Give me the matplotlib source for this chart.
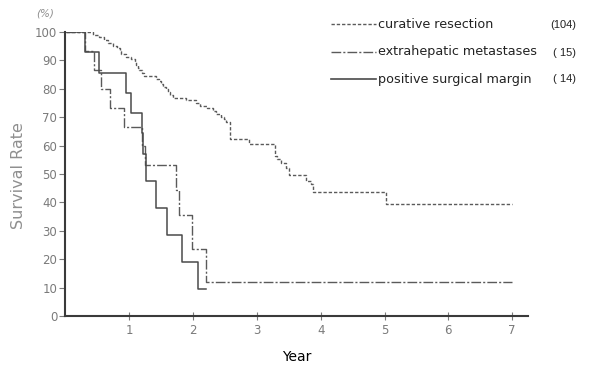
import matplotlib
matplotlib.use("Agg")
import matplotlib.pyplot as plt
from matplotlib.lines import Line2D

# ---- data ----
cr_time = [0, 0.43, 0.53, 0.60, 0.66, 0.74, 0.80, 0.85, 0.87, 0.95,
           1.03, 1.08, 1.11, 1.13, 1.15, 1.19, 1.23, 1.42, 1.47, 1.50,
           1.53, 1.57, 1.60, 1.64, 1.68, 1.89, 2.05, 2.10, 2.21, 2.31,
           2.36, 2.44, 2.48, 2.52, 2.57, 2.88, 3.28, 3.31, 3.38, 3.46,
           3.51, 3.77, 3.85, 3.88, 5.03, 7.0]
cr_surv = [100, 99.0, 98.1, 97.1, 96.2, 95.2, 94.2, 93.3, 92.3, 91.3,
           90.4, 89.4, 88.5, 87.5, 86.5, 85.5, 84.6, 83.6, 82.6, 81.7,
           80.7, 79.8, 78.8, 77.9, 76.9, 76.0, 75.0, 74.1, 73.1, 72.2,
           71.2, 70.2, 69.3, 68.3, 62.5, 60.4, 56.3, 55.3, 53.7, 52.0,
           49.5, 47.7, 46.6, 43.7, 39.6, 39.6]

em_time = [0, 0.31, 0.45, 0.55, 0.69, 0.92, 1.19, 1.24, 1.73, 1.77, 1.98, 2.20, 7.0]
em_surv = [100, 93.3, 86.7, 80.0, 73.3, 66.7, 60.0, 53.3, 44.4, 35.6, 23.7, 11.9, 11.9]

pm_time = [0, 0.31, 0.53, 0.95, 1.03, 1.19, 1.22, 1.26, 1.41, 1.59, 1.83, 2.08, 2.20]
pm_surv = [100, 92.9, 85.7, 78.6, 71.4, 64.3, 57.1, 47.6, 38.1, 28.6, 19.0, 9.5, 9.5]

labels = ["curative resection", "extrahepatic metastases", "positive surgical margin"]
counts = ["(104)", "( 15)", "( 14)"]
yticks = list(range(0, 101, 10))
xticks = [1, 2, 3, 4, 5, 6, 7]

# ---- figure ----
W, H = 591, 369
fig = plt.figure(figsize=(W / 100, H / 100), dpi=100)
ax = fig.add_axes([65 / W, 1 - 316 / H, (528 - 65) / W, (316 - 32) / H])

line_col = "#4a4a4a"
dash_cr = (2.4, 1.4)
dash_em = (7, 1.5, 1.5, 1.5)

l1, = ax.step(cr_time, cr_surv, where="post", color="#5a5a5a", lw=1.0)
l1.set_dashes(dash_cr)
l2, = ax.step(em_time, em_surv, where="post", color="#5a5a5a", lw=1.0)
l2.set_dashes(dash_em)
l3, = ax.step(pm_time, pm_surv, where="post", color=line_col, lw=1.1)

ax.set_xlim(-0.01, 7.25)
ax.set_ylim(0, 100)
for s in ["top", "right"]:
    ax.spines[s].set_visible(False)
for s in ["left", "bottom"]:
    ax.spines[s].set_linewidth(1.5)
    ax.spines[s].set_color("#3a3a3a")

ax.set_yticks(yticks)
ax.set_yticklabels([str(v) for v in yticks], color="#7a7a7a", fontsize=8.5)
ax.set_xticks(xticks)
ax.set_xticklabels([str(v) for v in xticks], color="#7a7a7a", fontsize=8.5)
ax.tick_params(axis="y", direction="out", length=4, width=0.8, color="#7a7a7a", pad=1.5)
ax.tick_params(axis="x", direction="inout", length=6, width=0.8, color="#7a7a7a", pad=3)

ax.set_xlabel("Year", fontsize=10, color="black", labelpad=9)
fig.text(19 / W, 1 - 176 / H, "Survival Rate", rotation=90, fontsize=11.5,
         color="#8f8f8f", ha="center", va="center")
fig.text(45 / W, 1 - 13 / H, "(%)", fontsize=7.5, color="#8f8f8f", ha="center",
         va="center", style="italic")

# ---- legend (manual) ----
rows_y = [24, 52, 79]
styles = [dict(dashes=dash_cr, color="#5a5a5a", lw=1.0),
          dict(dashes=dash_em, color="#5a5a5a", lw=1.0),
          dict(color=line_col, lw=1.2)]
for yy, lab, cnt, st in zip(rows_y, labels, counts, styles):
    yf = 1 - yy / H
    yb = 1 - (yy + 3.5) / H
    ln = Line2D([331 / W, 376 / W], [yf, yf], transform=fig.transFigure,
                **{k: v for k, v in st.items() if k != "dashes"})
    if "dashes" in st:
        ln.set_dashes(st["dashes"])
    fig.add_artist(ln)
    fig.text(378 / W, yb, lab, fontsize=9.2, color="#222222", ha="left", va="baseline")
    fig.text(576 / W, yb, cnt, fontsize=8, color="#222222", ha="right", va="baseline",
             family="Liberation Sans")

fig.savefig("out.png", dpi=100)
